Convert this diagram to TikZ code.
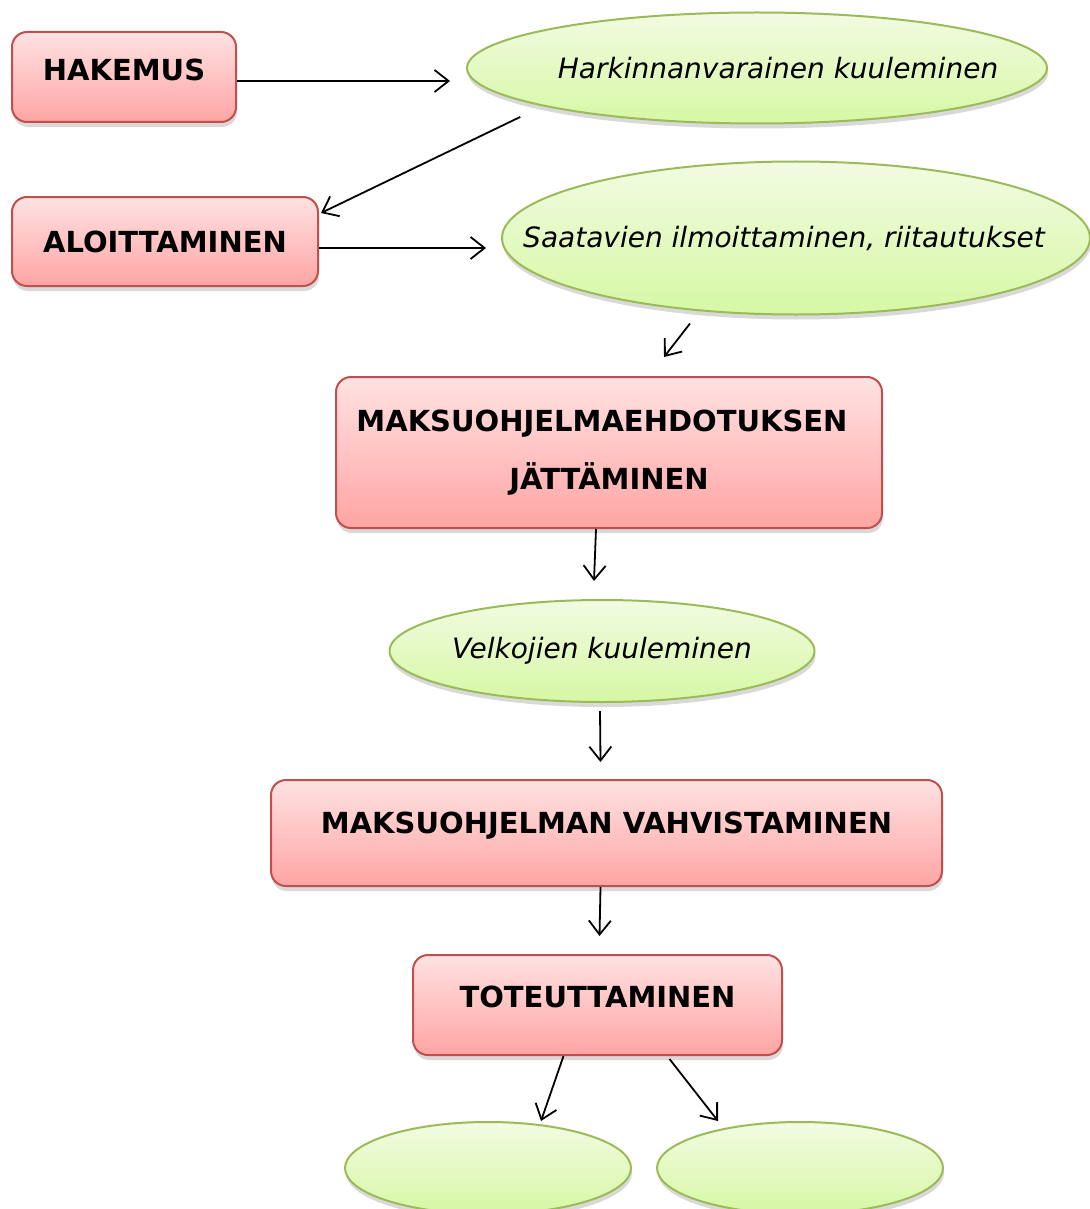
\documentclass[tikz,border=0pt]{standalone}
\usepackage{fontspec}
\setmainfont{DejaVu Sans}
\usetikzlibrary{arrows.meta,shadows,shapes.geometric}
\definecolor{boxline}{HTML}{C0504D}
\definecolor{boxtop}{HTML}{FFE2E2}
\definecolor{boxbot}{HTML}{FFA4A4}
\definecolor{ovalline}{HTML}{9BBB59}
\definecolor{ovaltop}{HTML}{F2FBE2}
\definecolor{ovalbot}{HTML}{D6F8A4}

\begin{document}
\begin{tikzpicture}[x=1pt,y=-1pt,
  vaihe/.style={rectangle, rounded corners=15pt, draw=boxline, line width=2pt,
    top color=boxtop, bottom color=boxbot,
    drop shadow={shadow xshift=1pt, shadow yshift=-5pt, opacity=.3},
    font=\fontsize{29}{58}\selectfont\bfseries, align=center, inner sep=0pt},
  kuulo/.style={ellipse, draw=ovalline, line width=2pt,
    top color=ovaltop, bottom color=ovalbot,
    drop shadow={shadow xshift=1pt, shadow yshift=-5pt, opacity=.3},
    font=\fontsize{28}{32}\selectfont\itshape, inner sep=0pt},
  nuoli/.style={line width=1.8pt, -{Straight Barb[length=14pt,width=22pt]}}]
\useasboundingbox (0,0) rectangle (1089,1209);

\node[vaihe, minimum width=224pt, minimum height=90pt, text height=22pt, text depth=15pt] (hak) at (124,77){HAKEMUS};
\node[kuulo, minimum width=580pt, minimum height=111pt] (harj) at (757,68){\makebox[0pt]{\hspace{42pt}Harkinnanvarainen kuuleminen}};
\draw[nuoli] ([shift={(0,4)}]hak.east) -- ([shift={(-16,13)}]harj.west);

\node[vaihe, minimum width=306pt, minimum height=89pt] (aloi) at (165,241.5){ALOITTAMINEN};
\draw[nuoli] ([shift={(-31,9)}]harj.south west) -- ([shift={(2,17)}]aloi.north east);

\node[kuulo, minimum width=588pt, minimum height=153pt] (saat) at (796,238){\makebox[0pt]{Saatavien ilmoittaminen, riitautukset\hspace{24pt}}};
\draw[nuoli] ([shift={(0,6.5)}]aloi.east) -- ([shift={(-15,10)}]saat.west);

\node[vaihe, minimum width=546pt, minimum height=151pt] (mak1) at (609,452.5){\makebox[0pt]{MAKSUOHJELMAEHDOTUKSEN\hspace{14pt}}\\JÄTTÄMINEN};
\draw[nuoli] ([shift={(-106,8)}]saat.south) -- ([shift={(55,-19)}]mak1.north);

\node[kuulo, minimum width=425pt, minimum height=102pt] (velk) at (602,651){\makebox[0pt]{Velkojien kuuleminen}};
\draw[nuoli] ([shift={(-13,0)}]mak1.south) -- ([shift={(-8,-18)}]velk.north);

\node[vaihe, minimum width=671pt, minimum height=106pt, text height=22pt, text depth=21pt] (vahv) at (606.5,833){MAKSUOHJELMAN VAHVISTAMINEN};
\draw[nuoli] ([shift={(-2,8)}]velk.south) -- ([shift={(-6,-17)}]vahv.north);

\node[vaihe, minimum width=369pt, minimum height=100pt, text height=22pt, text depth=17pt] (tot) at (597.5,1005){TOTEUTTAMINEN};
\draw[nuoli] ([shift={(-6,0)}]vahv.south) -- ([shift={(2,-18)}]tot.north);

\node[kuulo, minimum width=286pt, minimum height=92pt] (vas) at (488,1168){};
\node[kuulo, minimum width=286pt, minimum height=92pt] (oik) at (800,1168){};
\draw[nuoli] ([shift={(-34,0)}]tot.south) -- ([shift={(53,0)}]vas.north);
\draw[nuoli] ([shift={(72,3)}]tot.south) -- ([shift={(-82,0)}]oik.north);

\end{tikzpicture}
\end{document}
